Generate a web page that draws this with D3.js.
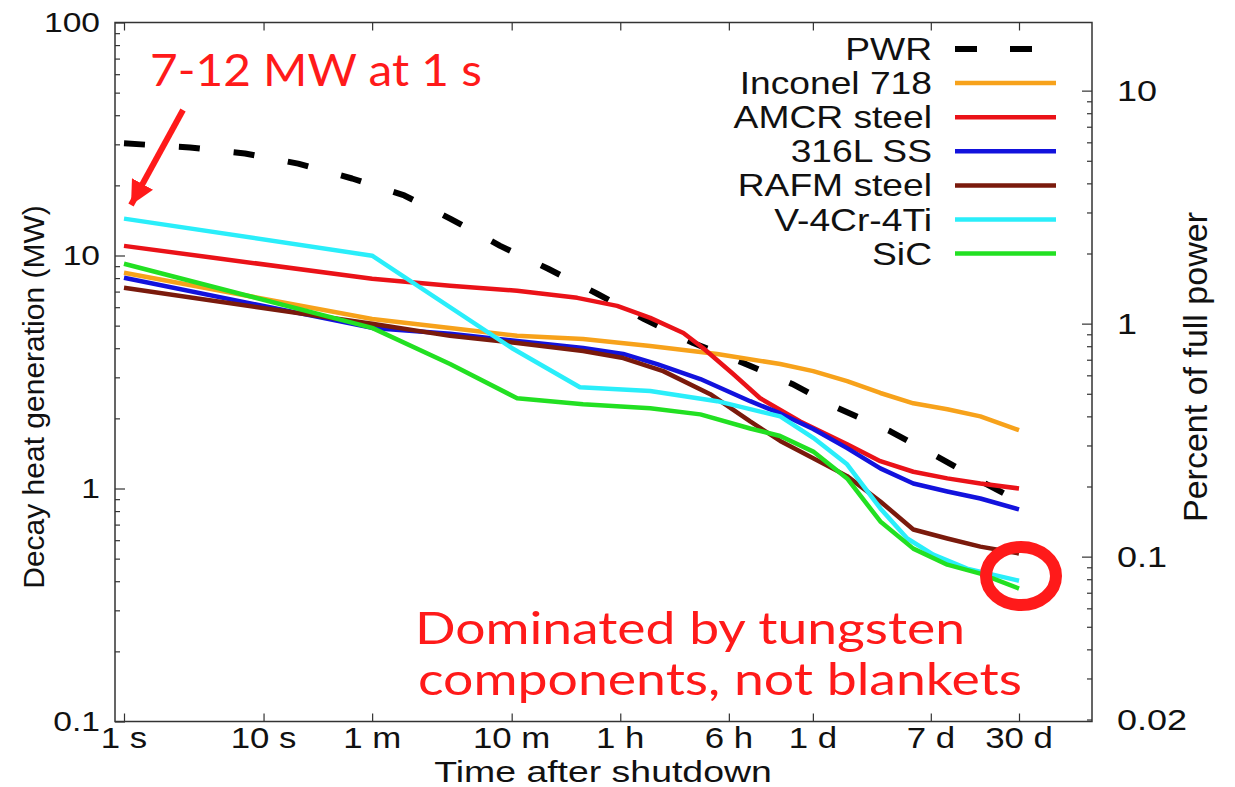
<!DOCTYPE html>
<html>
<head>
<meta charset="utf-8">
<script src="https://cdn.jsdelivr.net/npm/d3@7"></script>
<style>
  html, body { margin: 0; padding: 0; background: #fff; }
  svg { display: block; }
</style>
</head>
<body>
<svg id="chart"></svg>
<script>
// time after shutdown in seconds, decay heat in MW
const pwr      = [[1,30.3],[2.97,29.1],[7.37,27.4],[17.7,24.8],[43.1,21.4],[102,18.1],[217,14.4],[496,11.0],[1095,8.77],[2460,6.85],[5340,5.34],[12000,4.21],[27400,3.46],[61400,2.81],[131000,2.21],[310000,1.76],[673000,1.37],[1490000,1.05],[2592000,0.88]];
const inconel  = [[1,8.43],[60,5.34],[217,4.89],[656,4.52],[1950,4.38],[5900,4.09],[17800,3.78],[50400,3.42],[86900,3.19],[152000,2.89],[263000,2.57],[453000,2.32],[794000,2.19],[1370000,2.04],[2592000,1.78]];
const amcr     = [[1,11.0],[60,7.94],[217,7.41],[656,7.06],[1770,6.58],[3420,6.08],[5900,5.40],[10200,4.65],[14100,4.01],[23200,3.10],[36200,2.44],[70100,1.94],[152000,1.55],[263000,1.31],[453000,1.18],[794000,1.105],[1370000,1.05],[2592000,1.00]];
const ss316    = [[1,8.02],[60,4.89],[217,4.61],[656,4.30],[1950,4.01],[3780,3.78],[6620,3.42],[13500,2.95],[30700,2.37],[50400,2.10],[86900,1.80],[152000,1.49],[263000,1.22],[453000,1.05],[794000,0.971],[1370000,0.906],[2592000,0.813]];
const rafm     = [[1,7.27],[60,5.09],[217,4.52],[656,4.21],[1950,3.89],[3780,3.63],[7310,3.19],[15900,2.54],[30700,1.94],[50400,1.60],[86900,1.35],[152000,1.13],[263000,0.880],[453000,0.667],[794000,0.610],[1370000,0.563],[2592000,0.526]];
const vcrti    = [[1,14.4],[60,9.98],[600,4.01],[1850,2.72],[5900,2.62],[17800,2.37],[50400,2.04],[86900,1.65],[152000,1.27],[263000,0.821],[410000,0.610],[630000,0.520],[1100000,0.453],[2592000,0.402]];
const sic      = [[1,9.22],[60,4.89],[217,3.42],[656,2.44],[1950,2.30],[5900,2.21],[13500,2.08],[30700,1.81],[50400,1.68],[86900,1.44],[152000,1.105],[263000,0.722],[453000,0.552],[794000,0.471],[1370000,0.431],[2592000,0.372]];

const seriesNames = ["PWR","Inconel 718","AMCR steel","316L SS","RAFM steel","V-4Cr-4Ti","SiC"];
const seriesData = [pwr, inconel, amcr, ss316, rafm, vcrti, sic];
const seriesColors = ["#000000","#f7a21b","#ea1218","#1212dd","#7a1a0c","#2aeefa","#22e022"];

const timeTicks  = [1,10,60,600,3600,21600,86400,604800,2592000];
const timeLabels = ["1 s","10 s","1 m","10 m","1 h","6 h","1 d","7 d","30 d"];
const mwTicks  = [0.1,1,10,100];
const mwLabels = ["0.1","1","10","100"];
const pctTicks  = [0.02,0.1,1,10];
const pctLabels = ["0.02","0.1","1","10"];
const fullPowerMW = 510;

const W = 1235, H = 787;
const L = 115, R = 1092, T = 22.5, B = 721.5;
const FONT = "'Liberation Sans', Arial, Helvetica, sans-serif";
const SX = 1.2; // the original picture is stretched horizontally

const svg = d3.select('#chart').attr('width', W).attr('height', H);

const x = d3.scaleLog().domain([1, 2592000]).range([124, 1019]);
const y = d3.scaleLog().domain([0.1, 100]).range([B, T]);
const yPct = d3.scaleLog().domain([0.1 * 100 / fullPowerMW, 100 * 100 / fullPowerMW]).range([B, T]);

function minorsOf(scale) {
    let [a, b] = scale.domain();
    let out = [];
    for (let e = Math.floor(Math.log10(a)); e <= Math.ceil(Math.log10(b)); e++) {
        for (let m = 2; m <= 9; m++) {
            let v = m * Math.pow(10, e);
            if (v >= a * 0.999 && v <= b) out.push(v);
        }
    }
    return out;
}

function tickLines(g) {
    g.select('.domain').remove();
    g.selectAll('line').attr('stroke', '#333').attr('stroke-width', 1.2);
}

// ticks (inward)
svg.append('g').attr('transform', `translate(0,${B})`)
   .call(d3.axisBottom(x).tickValues(timeTicks).tickSize(-8).tickFormat('')).call(tickLines);
svg.append('g').attr('transform', `translate(0,${T})`)
   .call(d3.axisTop(x).tickValues(timeTicks).tickSize(-8).tickFormat('')).call(tickLines);
svg.append('g').attr('transform', `translate(${L},0)`)
   .call(d3.axisLeft(y).tickValues(mwTicks).tickSize(-10).tickFormat('')).call(tickLines);
svg.append('g').attr('transform', `translate(${L},0)`)
   .call(d3.axisLeft(y).tickValues(minorsOf(y)).tickSize(-5).tickFormat('')).call(tickLines);
svg.append('g').attr('transform', `translate(${R},0)`)
   .call(d3.axisRight(yPct).tickValues([0.1,1,10]).tickSize(-10).tickFormat('')).call(tickLines);
svg.append('g').attr('transform', `translate(${R},0)`)
   .call(d3.axisRight(yPct).tickValues(minorsOf(yPct)).tickSize(-5).tickFormat('')).call(tickLines);

// frame
svg.append('rect')
   .attr('x', L).attr('y', T).attr('width', R - L).attr('height', B - T)
   .attr('fill', 'none').attr('stroke', '#333').attr('stroke-width', 1.5);

function stretchedText(g, txt, px, py, size, anchor, dy, sx) {
    return g.append('text')
        .attr('transform', `translate(${px},${py}) scale(${sx || SX},1)`)
        .attr('text-anchor', anchor)
        .attr('dy', dy || 0)
        .attr('font-family', FONT)
        .attr('font-size', size)
        .attr('fill', '#111')
        .text(txt);
}

// tick labels
timeTicks.forEach((t, i) => stretchedText(svg, timeLabels[i], x(t), 748, 29, 'middle'));
mwTicks.forEach((v, i) => stretchedText(svg, mwLabels[i], 100, y(v), 28, 'end', '0.35em'));
pctTicks.forEach((v, i) => stretchedText(svg, pctLabels[i], 1117, yPct(v), 30, 'start', '0.35em'));

// axis titles
stretchedText(svg, 'Time after shutdown', 603, 782, 29, 'middle', 0, 1.29);
svg.append('text')
   .attr('transform', 'translate(44,397) rotate(-90)')
   .attr('text-anchor', 'middle')
   .attr('font-family', FONT).attr('font-size', 30).attr('fill', '#111')
   .text('Decay heat generation (MW)');
svg.append('text')
   .attr('transform', 'translate(1207,367) rotate(-90)')
   .attr('text-anchor', 'middle')
   .attr('font-family', FONT).attr('font-size', 34).attr('fill', '#111')
   .text('Percent of full power');

// lines
const line = d3.line().x(d => x(d[0])).y(d => y(d[1]));
const plot = svg.append('g');
seriesData.forEach((data, i) => {
    plot.append('path')
        .datum(data)
        .attr('d', line)
        .attr('fill', 'none')
        .attr('stroke', seriesColors[i])
        .attr('stroke-width', i === 0 ? 6 : 4.5)
        .attr('stroke-dasharray', i === 0 ? '21 34' : null)
        .attr('stroke-linejoin', 'round');
});

// legend
const legend = svg.append('g');
seriesNames.forEach((name, i) => {
    let by = 60 + i * 34.1;
    stretchedText(legend, name, 932, by, 31, 'end');
    legend.append('line')
        .attr('x1', 955).attr('x2', 1056)
        .attr('y1', by - 11).attr('y2', by - 11)
        .attr('stroke', seriesColors[i])
        .attr('stroke-width', i === 0 ? 6 : 4.5)
        .attr('stroke-dasharray', i === 0 ? '22 33' : null);
});

// red annotations
const RED = '#ff1a1a';
const RFONT = "Lato, 'Open Sans', sans-serif";
function redText(txt, px, py, len) {
    svg.append('text')
       .attr('x', px).attr('y', py)
       .attr('font-family', RFONT).attr('font-size', 45)
       .attr('fill', RED)
       .attr('textLength', len).attr('lengthAdjust', 'spacingAndGlyphs')
       .text(txt);
}
redText('7-12 MW at 1 s', 150, 86, 332);
redText('Dominated by tungsten', 415, 644, 550);
redText('components, not blankets', 418, 695, 604);

// arrow to the 1 s values
svg.append('defs').append('marker')
   .attr('id', 'head').attr('viewBox', '0 0 10 10')
   .attr('refX', 10).attr('refY', 5)
   .attr('markerWidth', 4).attr('markerHeight', 4)
   .attr('markerUnits', 'strokeWidth')
   .attr('orient', 'auto')
   .append('path').attr('d', 'M0,0 L10,5 L0,10 Z').attr('fill', RED);
svg.append('line')
   .attr('x1', 183).attr('y1', 110).attr('x2', 131).attr('y2', 205)
   .attr('stroke', RED).attr('stroke-width', 6)
   .attr('marker-end', 'url(#head)');

// ring around the 30 d end points
svg.append('ellipse')
   .attr('cx', 1021).attr('cy', 576).attr('rx', 35).attr('ry', 29)
   .attr('fill', 'none').attr('stroke', RED).attr('stroke-width', 12);
</script>
</body>
</html>
